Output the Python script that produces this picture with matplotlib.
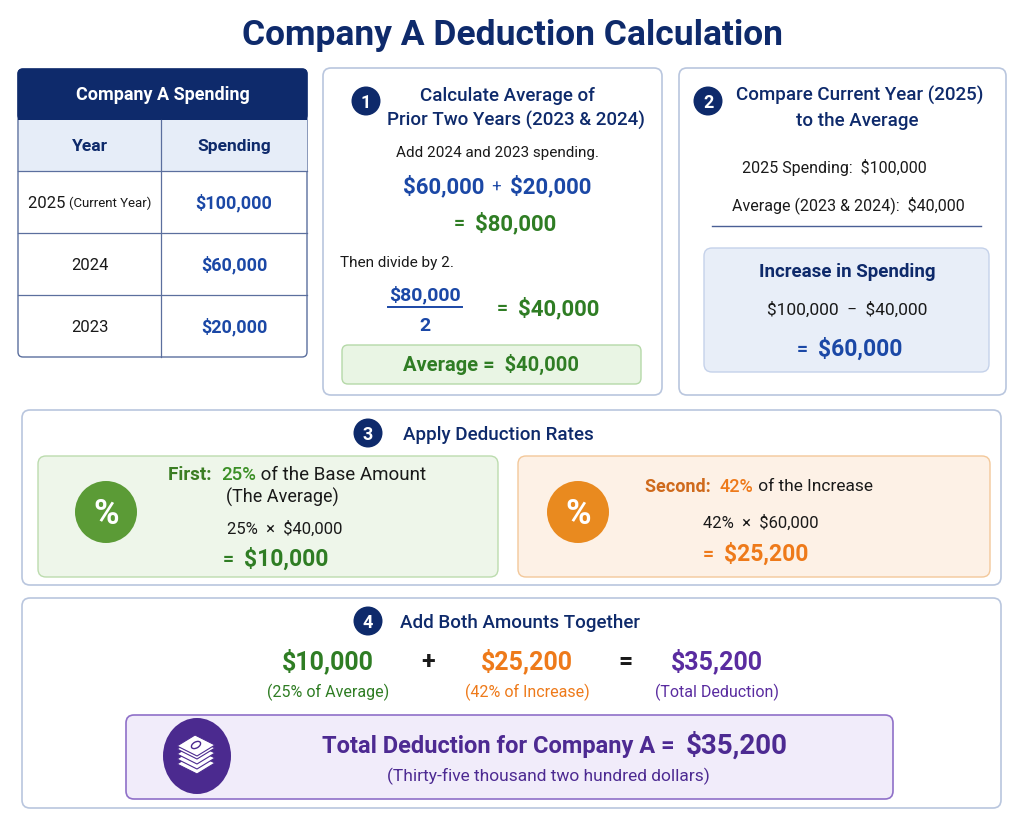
import matplotlib
matplotlib.use("Agg")
import matplotlib.pyplot as plt
from matplotlib.patches import FancyBboxPatch, Circle, Ellipse, Polygon

plt.rcParams['font.family'] = ['Roboto', 'DejaVu Sans']
plt.rcParams['text.parse_math'] = False  # dollar signs are plain text here

# chart values
years = ['2025', '2024', '2023']
year_notes = ['(Current Year)', '', '']
spending = [100000, 60000, 20000]
base_rate = 25
increase_rate = 42
total_words = 'Thirty-five thousand two hundred dollars'

prior_sum = spending[1] + spending[2]
average = prior_sum / 2
increase = spending[0] - average
first_ded = average * base_rate / 100
second_ded = increase * increase_rate / 100
total_ded = first_ded + second_ded

NAVY = '#0e2a6b'
BLUE = '#1b48a6'
GREEN = '#2f7d24'
ORANGE = '#ee7a1a'
ORANGE_D = '#cf6a1c'
PURPLE = '#4d2a92'
INK = '#1a1a1a'
CARD_EDGE = '#b9c6de'


def money(v):
    return f'${v:,.0f}'


fig = plt.figure(figsize=(10.24, 8.19), dpi=100)
ax = fig.add_axes([0, 0, 1, 1])
ax.set_xlim(0, 1024)
ax.set_ylim(819, 0)
ax.axis('off')
renderer = fig.canvas.get_renderer()


def txt(x, y, s, size, color=INK, weight='normal', ha='center'):
    # y is the visual middle of the capitals
    return ax.text(x, y + 0.5 * size, s, fontsize=size, color=color,
                   fontweight=weight, ha=ha, va='baseline')


def run(x, y, parts, ha='center'):
    # parts: (string, size, color, weight) placed side by side
    items = []
    for s, size, color, weight in parts:
        t = txt(0, y, s, size, color, weight, ha='left')
        items.append((t, t.get_window_extent(renderer=renderer).width))
    total = sum(w for _, w in items)
    x0 = x - total / 2 if ha == 'center' else x
    for t, w in items:
        t.set_x(x0)
        x0 += w


def card(x0, y0, x1, y1, fc='white', ec=CARD_EDGE, lw=1.2, r=8):
    ax.add_patch(FancyBboxPatch((x0, y0), x1 - x0, y1 - y0,
                                boxstyle=f'round,pad=0,rounding_size={r}',
                                fc=fc, ec=ec, lw=lw))


def badge(x, y, n):
    ax.add_patch(Circle((x, y), 14.5, fc=NAVY, ec='none'))
    txt(x, y, str(n), 13, 'white', 'bold')


# title
txt(512, 32, 'Company A Deduction Calculation', 25.5, NAVY, 'bold')

# ---- spending table ----
tx0, tx1, tmid = 18, 307, 161
card(tx0, 69, tx1, 357, fc='white', ec='#5b6f9e', lw=1.0, r=5)
ax.add_patch(FancyBboxPatch((tx0, 69), tx1 - tx0, 51,
                            boxstyle='round,pad=0,rounding_size=5',
                            fc=NAVY, ec=NAVY, lw=1))
ax.fill_between([tx0, tx1], 110, 120, color=NAVY, lw=0)
ax.fill_between([tx0 + 0.5, tx1 - 0.5], 120, 171, color='#e6edf8', lw=0)
txt((tx0 + tx1) / 2, 94, 'Company A Spending', 13, 'white', 'bold')
txt((tx0 + tmid) / 2, 145, 'Year', 12.5, NAVY, 'bold')
txt((tmid + tx1) / 2, 145, 'Spending', 12.5, NAVY, 'bold')
row_edges = [120, 171, 233, 295]
for ry in row_edges[1:]:
    ax.plot([tx0, tx1], [ry, ry], color='#5b6f9e', lw=0.9)
ax.plot([tmid, tmid], [120, 357], color='#5b6f9e', lw=0.9)
row_h = 62
for i, (yr, note, val) in enumerate(zip(years, year_notes, spending)):
    cy = 171 + row_h * i + row_h / 2
    if note:
        run((tx0 + tmid) / 2, cy, [(yr + ' ', 12, INK, 'normal'),
                                   (note, 9.5, INK, 'normal')])
    else:
        txt((tx0 + tmid) / 2, cy, yr, 12, INK)
    txt((tmid + tx1) / 2, cy, money(val), 13, BLUE, 'bold')

# ---- step 1 ----
card(323, 68, 662, 395)
badge(366, 101, 1)
txt(507, 94, 'Calculate Average of', 13.5, NAVY, 'medium')
txt(516, 119, f'Prior Two Years ({years[2]} & {years[1]})', 13.5, NAVY, 'medium')
txt(497, 152, f'Add {years[1]} and {years[2]} spending.', 11, INK)
run(497, 185, [(money(spending[1]), 16, BLUE, 'bold'),
               ('  +  ', 12, BLUE, 'normal'),
               (money(spending[2]), 16, BLUE, 'bold')])
run(505, 222, [('=  ', 14, GREEN, 'bold'),
               (money(prior_sum), 16, GREEN, 'bold')])
txt(340, 261, 'Then divide by 2.', 11, INK, ha='left')
txt(425, 293, money(prior_sum), 14, BLUE, 'bold')
ax.plot([388, 462], [307, 307], color=BLUE, lw=1.4)
txt(425, 324, '2', 14, BLUE, 'bold')
run(548, 307, [('=  ', 14, GREEN, 'bold'),
               (money(average), 16, GREEN, 'bold')])
card(342, 345, 641, 384, fc='#e9f5e4', ec='#b5d9a8', lw=1.0, r=6)
txt(491, 364, f'Average =  {money(average)}', 14.5, GREEN, 'bold')

# ---- step 2 ----
card(679, 68, 1006, 395)
badge(708, 101, 2)
txt(860, 94, f'Compare Current Year ({years[0]})', 13.5, NAVY, 'medium')
txt(857, 119, 'to the Average', 13.5, NAVY, 'medium')
txt(742, 167, f'{years[0]} Spending:  {money(spending[0])}', 11.5, INK, ha='left')
txt(732, 204, f'Average ({years[2]} & {years[1]}):  {money(average)}', 11.5, INK, ha='left')
ax.plot([712, 981], [226, 226], color='#4a5f95', lw=1.0)
card(704, 248, 989, 372, fc='#e8eef8', ec='#c5d2ea', lw=1.0, r=8)
txt(847, 270, 'Increase in Spending', 13.5, NAVY, 'bold')
txt(847, 309, f'{money(spending[0])}  \u2212  {money(average)}', 12.5, INK)
run(850, 348, [('=  ', 14, BLUE, 'bold'),
               (money(increase), 16.5, BLUE, 'bold')])

# ---- step 3 ----
card(22, 410, 1001, 585)
badge(368, 433, 3)
txt(403, 433, 'Apply Deduction Rates', 13.5, NAVY, 'medium', ha='left')

card(38, 456, 498, 577, fc='#eef6ea', ec='#bcdcae', lw=1.0, r=8)
ax.add_patch(Circle((106, 512), 31, fc='#5b9b36', ec='none'))
txt(106, 512, '%', 25, 'white', 'bold')
run(168, 473, [('First:  ', 13.5, '#3b7d23', 'bold'),
               (f'{base_rate}%', 13.5, '#3b8f26', 'medium'),
               (' of the Base Amount', 13.5, INK, 'normal')], ha='left')
txt(282, 496, '(The Average)', 13, INK)
txt(285, 528, f'{base_rate}%  \u00d7  {money(average)}', 12, INK)
run(276, 558, [('=  ', 14, GREEN, 'bold'),
               (money(first_ded), 16.5, GREEN, 'bold')])

card(518, 456, 990, 577, fc='#fdf1e6', ec='#f3c89a', lw=1.0, r=8)
ax.add_patch(Circle((578, 512), 31, fc='#e98a1f', ec='none'))
txt(578, 512, '%', 25, 'white', 'bold')
run(645, 485, [('Second:  ', 13, ORANGE_D, 'bold'),
               (f'{increase_rate}%', 13, ORANGE, 'medium'),
               (' of the Increase', 12.5, INK, 'normal')], ha='left')
txt(761, 522, f'{increase_rate}%  \u00d7  {money(increase)}', 12, INK)
run(756, 553, [('=  ', 14, ORANGE, 'bold'),
               (money(second_ded), 16.5, ORANGE, 'bold')])

# ---- step 4 ----
card(22, 598, 1001, 808)
badge(368, 621, 4)
txt(400, 621, 'Add Both Amounts Together', 13.5, NAVY, 'medium', ha='left')
sum_x = [328, 527, 717]
sum_vals = [first_ded, second_ded, total_ded]
sum_notes = ['(25% of Average)', '(42% of Increase)', '(Total Deduction)']
sum_colors = [GREEN, ORANGE, '#5a2ca0']
for x, v, note, c in zip(sum_x, sum_vals, sum_notes, sum_colors):
    txt(x, 660, money(v), 18, c, 'bold')
    txt(x, 691, note, 11.5, c)
txt(428, 660, '+', 18, INK, 'bold')
txt(626, 660, '=', 18, INK, 'bold')

card(126, 715, 893, 799, fc='#f1ecfa', ec='#8f70c8', lw=1.2, r=8)
ax.add_patch(Ellipse((197, 756), 68, 76, fc='#4b2a8f', ec='none'))
cx, cy = 197, 744
for dy in (18, 13, 8, 3, 0):
    ax.add_patch(Polygon([(cx - 20, cy + dy + 2), (cx - 2, cy + dy - 9),
                          (cx + 18, cy + dy + 1), (cx, cy + dy + 12)],
                         closed=True, fc='white', ec='#4b2a8f', lw=0.8))
ax.add_patch(Ellipse((cx - 1, cy + 1), 10, 6, angle=-30, fc='none',
                     ec='#4b2a8f', lw=1.0))
run(555, 744, [('Total Deduction for Company A =  ', 17, PURPLE, 'bold'),
               (money(total_ded), 20, PURPLE, 'bold')])
txt(548, 775, f'({total_words})', 12.5, PURPLE)

fig.savefig('out.png', dpi=100, facecolor='white')
